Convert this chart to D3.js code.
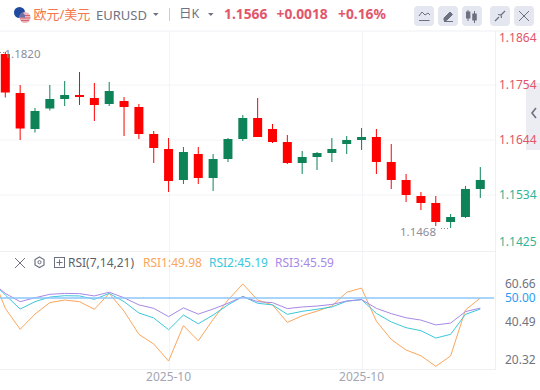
<!DOCTYPE html>
<html>
<head>
<meta charset="utf-8">
<script src="https://cdn.jsdelivr.net/npm/d3@7"></script>
<style>
html,body{margin:0;padding:0;background:#fff;overflow:hidden;}
svg{display:block;}
text{font-family:"Noto Sans","Noto Sans CJK SC",sans-serif;}
</style>
</head>
<body>
<svg id="chart"></svg>
<script>
// candles
var opens = [1.1816,1.1738,1.1666,1.1707,1.1726,1.1734,1.1728,1.1716,1.1722,1.1710,1.1656,1.1626,1.1564,1.1616,1.1568,1.1606,1.1646,1.1688,1.1666,1.1640,1.1598,1.1610,1.1618,1.1636,1.1644,1.1650,1.1600,1.1564,1.1532,1.1518,1.1480,1.1490,1.1546];
var highs = [1.1820,1.1754,1.1708,1.1754,1.1762,1.1780,1.1758,1.1760,1.1730,1.1716,1.1662,1.1648,1.1630,1.1630,1.1616,1.1648,1.1694,1.1728,1.1676,1.1654,1.1622,1.1620,1.1648,1.1652,1.1668,1.1666,1.1636,1.1576,1.1540,1.1532,1.1496,1.1552,1.1590];
var lows = [1.1729,1.1644,1.1659,1.1703,1.1712,1.1714,1.1682,1.1712,1.1652,1.1646,1.1598,1.1540,1.1556,1.1556,1.1542,1.1600,1.1642,1.1650,1.1638,1.1596,1.1576,1.1584,1.1600,1.1616,1.1624,1.1576,1.1546,1.1520,1.1504,1.1472,1.1468,1.1488,1.1528];
var closes = [1.1739,1.1667,1.1702,1.1726,1.1734,1.1730,1.1714,1.1742,1.1710,1.1656,1.1628,1.1562,1.1620,1.1568,1.1606,1.1646,1.1688,1.1650,1.1640,1.1598,1.1610,1.1618,1.1626,1.1644,1.1650,1.1600,1.1564,1.1534,1.1518,1.1480,1.1490,1.1546,1.1564];
// rsi has one more point, the bar left of the visible window
var rsi1 = [61.9,45.5,36.4,43.0,48.0,49.1,48.4,45.1,52.0,44.3,34.2,30.0,22.6,38.0,31.4,40.7,49.1,56.1,49.1,47.0,39.4,42.3,44.3,46.5,52.5,54.3,39.9,32.0,27.4,24.9,20.32,24.8,44.8,49.98];
var rsi2 = [57.8,51.3,45.2,48.4,50.4,51.0,50.9,49.4,52.0,48.4,43.5,41.3,36.2,42.6,38.8,42.6,47.0,50.7,47.7,47.0,42.9,44.2,45.1,46.1,48.6,49.3,43.3,39.6,37.1,35.8,32.6,34.2,42.9,45.19];
var rsi3 = [57.4,52.0,48.4,50.1,51.6,52.0,51.9,50.9,52.5,50.1,47.0,45.5,41.9,45.7,43.0,45.2,47.7,50.6,48.4,48.0,45.4,46.1,46.5,47.2,48.7,49.3,45.5,43.2,41.4,40.4,38.3,39.1,44.1,45.59];
var priceTicks = [1.1864,1.1754,1.1644,1.1534,1.1425];
var rsiTicks = [60.66,40.49,20.32];
var dateTicks = [{i:11,label:"2025-10"},{i:24,label:"2025-10"}];

var width = 540, height = 390;
var plotRight = 495;
var candleWidth = 9;
let upColor = "#0f8358";
let downColor = "#ff0000";
let gridColor = "#f3f4f8";
let priceRed = "#e2566a";
let priceGreen = "#2fb598";
let axisGrey = "#70737f";

var svg = d3.select("#chart").attr("width",width).attr("height",height);

svg.append("defs").append("clipPath").attr("id","plotClip")
        .append("rect").attr("x",0).attr("y",32).attr("width",plotRight).attr("height",338);

var x = d3.scaleLinear().domain([0,32]).range([5.3,480.3]);
var y = d3.scaleLinear().domain([1.1754,1.1644]).range([85,140]);
var rsiY = d3.scaleLinear().domain([50,20.32]).range([298,366.3]);
// the rsi labels do not sit on the scale of the lines
var rsiLabelY = d3.scaleLinear().domain([60.66,20.32]).range([284,360]);

// side handle, the labels run over it
svg.append("rect").attr("x",526).attr("y",83).attr("width",14).attr("height",67).attr("fill","#ecedf2");
svg.append("path").attr("d","M536,108l-4,5l4,5").attr("fill","none").attr("stroke","#6d7080").attr("stroke-width",1.6);

// grid
var grid = svg.append("g").attr("class","grid");
priceTicks.slice(1,4).forEach(function(d){
        grid.append("line").attr("x1",0).attr("x2",plotRight)
                .attr("y1",y(d)).attr("y2",y(d))
                .attr("stroke",gridColor).attr("stroke-width",1);
});
dateTicks.forEach(function(d){
        grid.append("line").attr("x1",Math.round(x(d.i))+0.5).attr("x2",Math.round(x(d.i))+0.5)
                .attr("y1",32).attr("y2",369)
                .attr("stroke",gridColor).attr("stroke-width",1);
});
[[0,width,31],[0,plotRight,251.5],[0,plotRight,369.5]].forEach(function(d){
        grid.append("line").attr("x1",d[0]).attr("x2",d[1]).attr("y1",d[2]).attr("y2",d[2])
                .attr("stroke","#eff0f4").attr("stroke-width",1);
});
grid.append("line").attr("x1",plotRight+0.5).attr("x2",plotRight+0.5).attr("y1",31).attr("y2",370)
        .attr("stroke","#eff0f4");

// candles
var candles = svg.append("g").attr("clip-path","url(#plotClip)")
        .selectAll(".candle")
        .data(opens.map(function(d,i){return {i:i,o:d,h:highs[i],l:lows[i],c:closes[i]};}))
        .enter().append("g").attr("class","candle");
candles.append("line")
        .attr("x1",d => x(d.i)).attr("x2",d => x(d.i))
        .attr("y1",d => y(d.h)).attr("y2",d => y(d.l))
        .attr("stroke",d => d.c >= d.o ? upColor : downColor)
        .attr("stroke-width",1);
candles.append("rect")
        .attr("x",d => x(d.i) - candleWidth/2)
        .attr("y",d => y(Math.max(d.o,d.c)))
        .attr("width",candleWidth)
        .attr("height",d => Math.max(1,Math.abs(y(d.o)-y(d.c))))
        .attr("fill",d => d.c >= d.o ? upColor : downColor);

// hi/lo labels
svg.append("text").attr("x",4.5).attr("y",58).attr("font-size",11.5).attr("fill","#8b8e99").text("1.1820");
svg.append("line").attr("x1",0).attr("x2",4).attr("y1",52.5).attr("y2",52.5)
        .attr("stroke","#8b8e99").attr("stroke-dasharray","1,2");
svg.append("text").attr("x",400).attr("y",235.5).attr("font-size",11.5).attr("fill","#8b8e99").text("1.1468");
svg.append("line").attr("x1",441).attr("x2",450).attr("y1",228.5).attr("y2",228.5)
        .attr("stroke","#8b8e99").attr("stroke-dasharray","1,2");

// price labels, first and last get pushed inside the panel
svg.append("g").selectAll("text").data(priceTicks).enter().append("text")
        .attr("x",499)
        .attr("y",d => Math.min(242,Math.max(38,y(d))))
        .attr("dy","0.35em")
        .attr("font-size",12)
        .attr("fill",d => d > 1.16 ? priceRed : priceGreen)
        .text(d => d3.format(".4f")(d));

// rsi lines
var rsiX = function(d,i){return x(i-1);};
var line = d3.line().x(rsiX).y(d => rsiY(d));
var rsiGroup = svg.append("g").attr("clip-path","url(#plotClip)");
svg.append("line").attr("x1",0).attr("x2",plotRight-1).attr("y1",rsiY(50)).attr("y2",rsiY(50))
        .attr("stroke","#8cc6fb").attr("stroke-width",1.6);
[[rsi1,"#fba65c"],[rsi2,"#3cc8da"],[rsi3,"#a789e6"]].forEach(function(d){
        rsiGroup.append("path").attr("d",line(d[0])).attr("fill","none")
                .attr("stroke",d[1]).attr("stroke-width",1);
});

var rsiAxis = d3.axisRight(rsiLabelY).tickValues(rsiTicks).tickSize(0).tickPadding(0).tickFormat(d3.format(".2f"));
var rsiAxisG = svg.append("g").attr("transform","translate(505,0)").call(rsiAxis);
rsiAxisG.select(".domain").remove();
rsiAxisG.selectAll("text").attr("font-size",12).attr("fill",axisGrey)
        .style("font-family",'"Noto Sans","Noto Sans CJK SC",sans-serif');
svg.append("text").attr("x",505).attr("y",rsiY(50)).attr("dy","0.35em")
        .attr("font-size",12).attr("fill","#2f9bf4").text("50.00");

// dates
svg.append("g").selectAll("text").data(dateTicks).enter().append("text")
        .attr("x",d => x(d.i)).attr("y",381).attr("text-anchor","middle")
        .attr("font-size",12).attr("fill","#a3a6b2").text(d => d.label);

// rsi legend
var legend = [["RSI1:49.98",143,"#fba65c"],["RSI2:45.19",209,"#3cc8da"],["RSI3:45.59",275,"#a789e6"]];
svg.append("g").selectAll("text").data(legend).enter().append("text")
        .attr("x",d => d[1]).attr("y",267).attr("font-size",12).attr("fill",d => d[2]).text(d => d[0]);
svg.append("text").attr("x",68).attr("y",267).attr("font-size",12).attr("fill","#5c5f6b").text("RSI(7,14,21)");
var tools = svg.append("g").attr("fill","none").attr("stroke","#6d7080");
tools.append("path").attr("d","M15,258L25,268M25,258L15,268");
tools.append("path").attr("d","M39.5,257L44,259.5V265L39.5,267.5L35,265V259.5Z").attr("stroke-width",1.2);
tools.append("circle").attr("cx",39.5).attr("cy",262.2).attr("r",1.6).attr("stroke-width",1);
tools.append("rect").attr("x",54.5).attr("y",257.5).attr("width",10).attr("height",10);
tools.append("path").attr("d","M56.5,262.5h6M59.5,259.5v6");

// header
svg.append("circle").attr("cx",19.5).attr("cy",12.5).attr("r",5.5).attr("fill","#1f4aa0");
svg.append("circle").attr("cx",25).attr("cy",17.5).attr("r",5.5).attr("fill","#e8b6bd");
svg.append("path").attr("d","M20,15.5h10M19.8,18h10.5M21,20.5h8").attr("stroke","#d9606e").attr("fill","none");
svg.append("path").attr("d","M19.5,17.5a5.5,5.5,0,0,1,3.2,-5a5.5,5.5,0,0,1,2.3,5z").attr("fill","#6a6fa8");
svg.append("text").attr("x",33.5).attr("y",19).attr("font-size",13).attr("fill","#f5764c").text("欧元/美元");
svg.append("text").attr("x",96).attr("y",20).attr("font-size",13).attr("fill","#6f7280").text("EURUSD");
svg.append("path").attr("d","M153,13h5.5l-2.7,3z").attr("fill","#6f7280");
svg.append("line").attr("x1",169.5).attr("x2",169.5).attr("y1",8).attr("y2",21).attr("stroke","#c9ccd6");
svg.append("text").attr("x",179).attr("y",18).attr("font-size",12.5).attr("fill","#6f7280").text("日K");
svg.append("path").attr("d","M208,13h5.5l-2.7,3z").attr("fill","#6f7280");
[["1.1566",224],["+0.0018",276.5],["+0.16%",338]].forEach(function(d){
        svg.append("text").attr("x",d[1]).attr("y",18.5).attr("font-size",13.8).attr("font-weight",700)
                .attr("fill","#e2566a").text(d[0]);
});

// buttons
var buttons = [414,438,462,490,514];
svg.append("g").selectAll("rect").data(buttons).enter().append("rect")
        .attr("x",d => d).attr("y",6).attr("width",20).attr("height",20).attr("rx",4)
        .attr("fill","#e4e7ef");
var ic = svg.append("g").attr("fill","none").attr("stroke","#6d7080");
ic.append("path").attr("d","M419,16l3,-4l3,3l3,-2l2,2M419,20.5h10.5");
ic.append("path").attr("d","M444,18l6,-6l2.5,2.5l-6,6h-2.5zM444,21.5h9").attr("fill","#6d7080");
ic.append("path").attr("d","M468,10v11M474.5,11v12").attr("stroke-width",1);
ic.append("rect").attr("x",466.5).attr("y",12).attr("width",3.4).attr("height",6).attr("fill","#6d7080");
ic.append("rect").attr("x",472.8).attr("y",14).attr("width",3.4).attr("height",6).attr("fill","#6d7080");
ic.append("path").attr("d","M495,21l4,-4M501,15l4,-4M498,14.5l3,0.5l0.5,3").attr("stroke-width",1.2);
ic.append("path").attr("d","M519,11l10,10M529,11l-10,10");
</script>
</body>
</html>
